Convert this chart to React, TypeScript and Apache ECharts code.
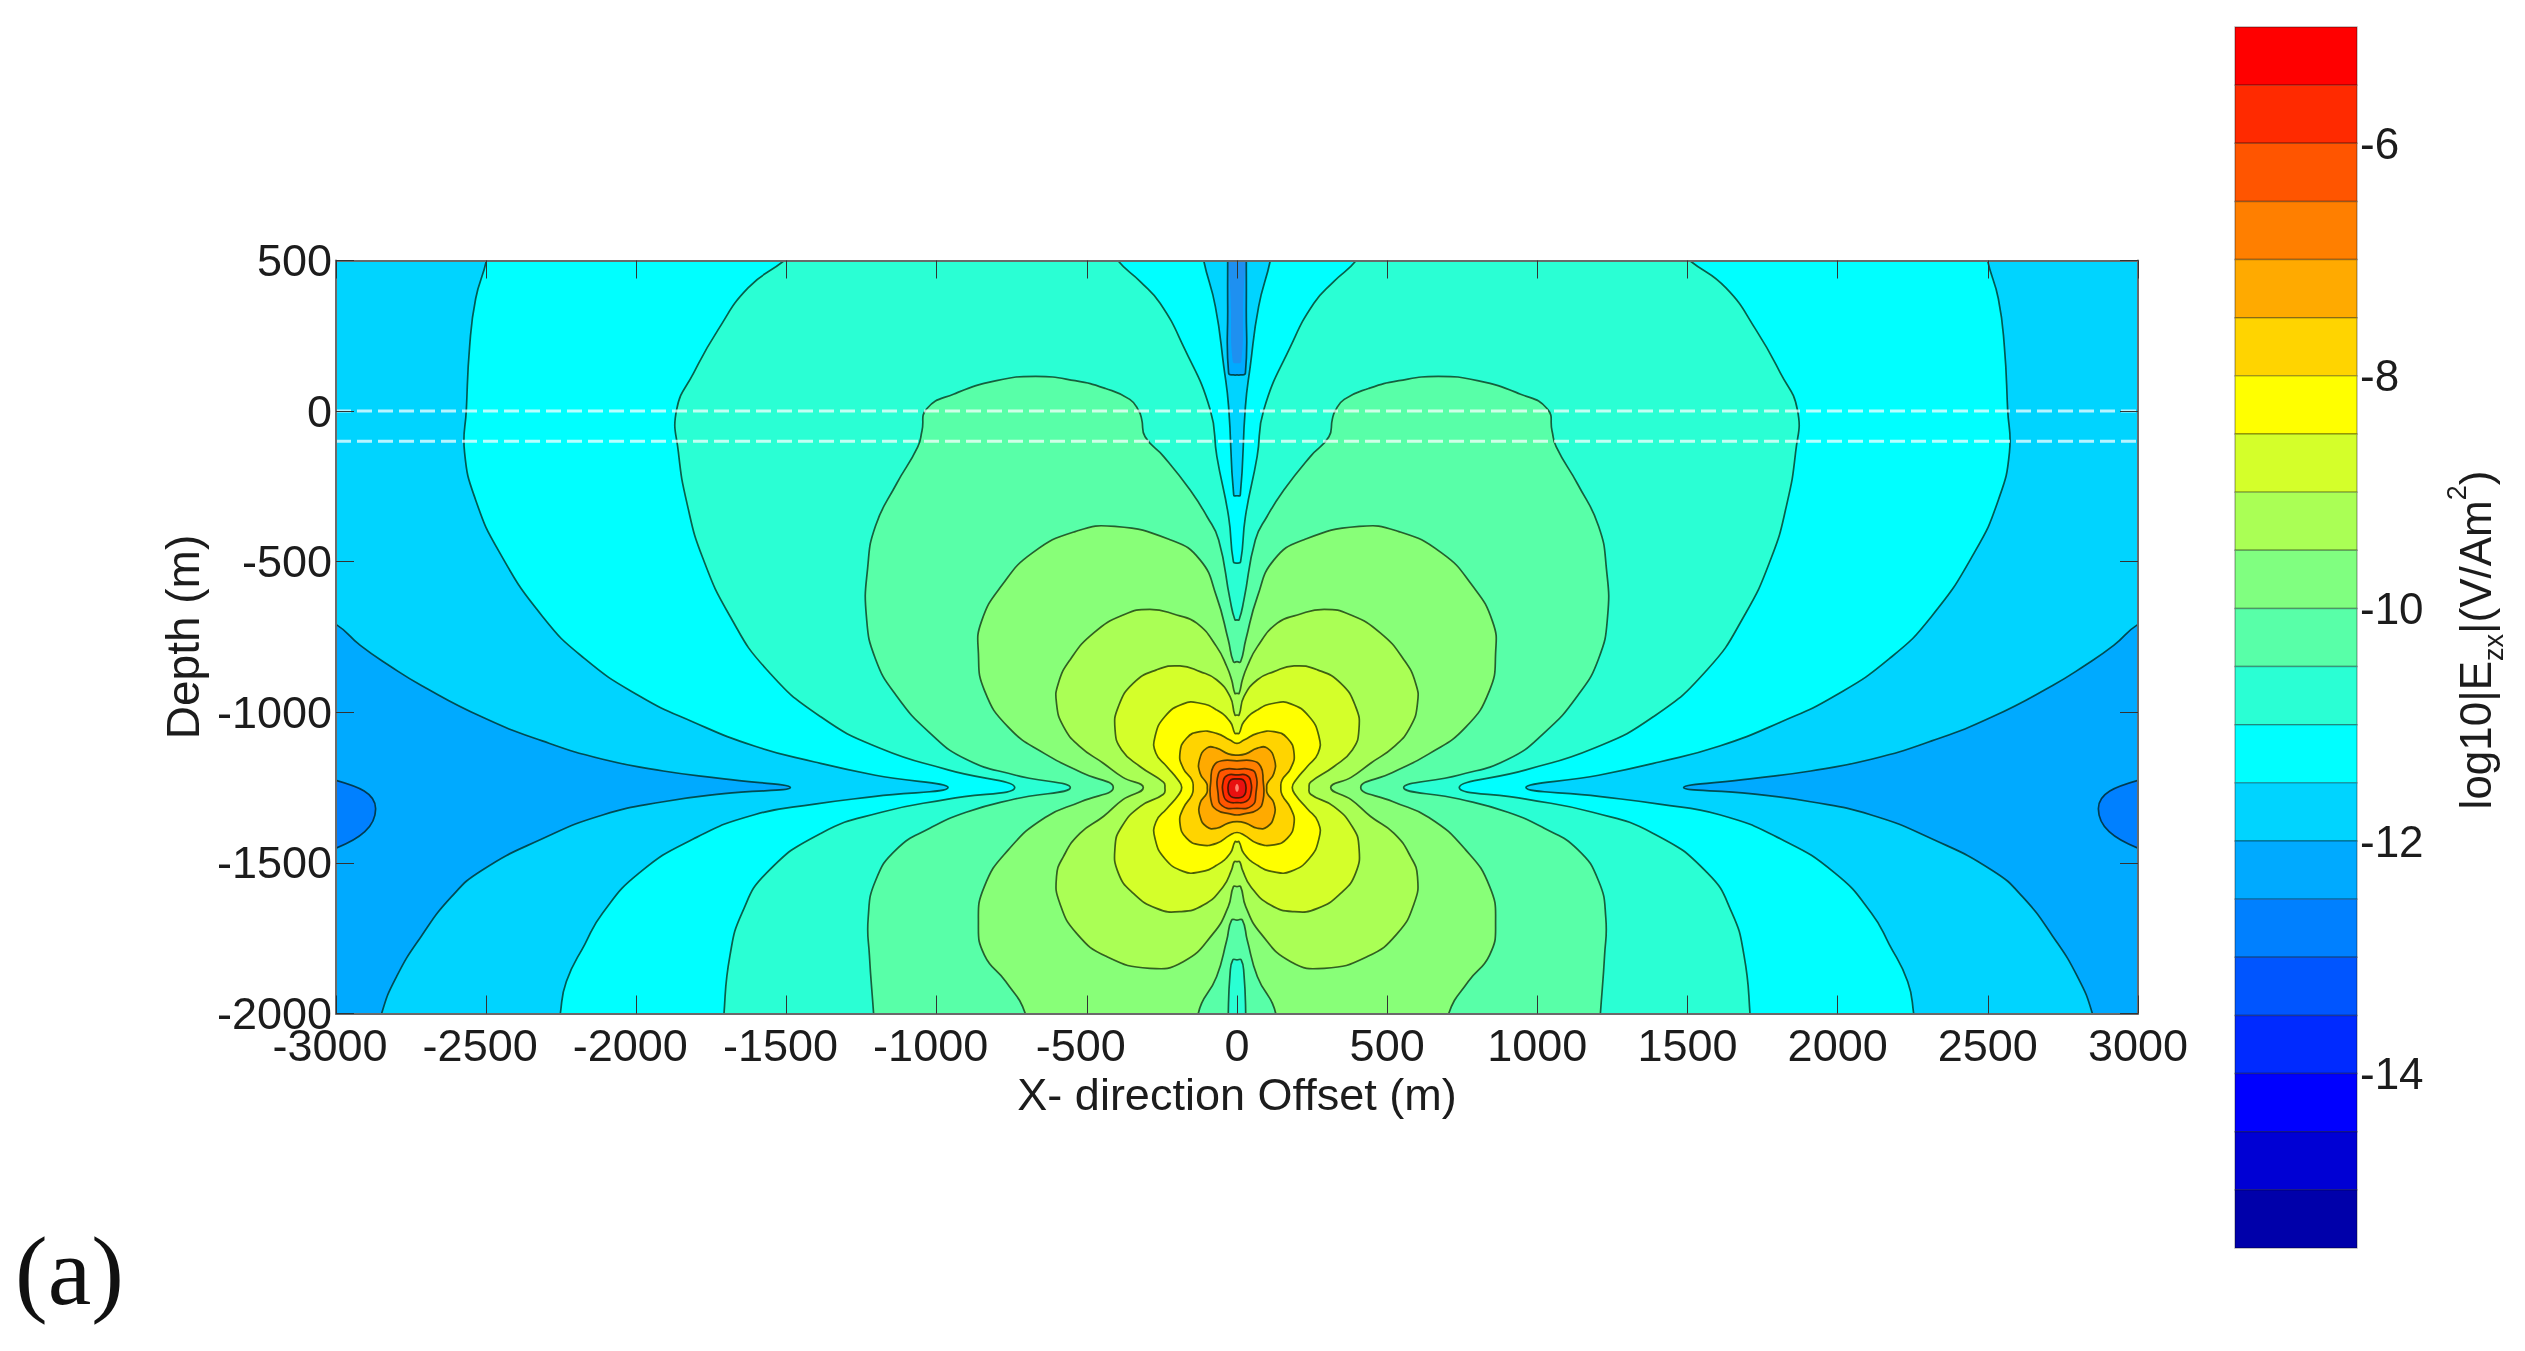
import React, { useEffect, useRef } from "react";
import * as echarts from "echarts";

type P = [number, number];

const xTicks = [-3000, 3000];
const yTicks = [-2000, 500];
const layerDepths = [0, -100];

const barLows = [-5.5, -6, -6.5, -7, -7.5, -8, -8.5, -9, -9.5, -10, -10.5, -11, -11.5, -12, -12.5, -13, -13.5, -14, -14.5, -15, -15.5];
const barColors = ["#FF0000", "#FF2A00", "#FF5500", "#FF7F00", "#FFAA00", "#FFD400", "#FFFF00", "#D4FF2A", "#AAFF55", "#80FF80", "#58FFA8", "#2AFFD4", "#00FFFF", "#00D4FF", "#00AAFF", "#0080FF", "#0055FF", "#002AFF", "#0000FF", "#0000D4", "#0000AA"];
const barTicks = [-6, -8, -10, -12, -14];

const edgeLobe: P[] = [[-3200, -1226], [-3000, -1226], [-2868, -1320], [-3000, -1451], [-3200, -1451]];
const topCore: P[] = [[0, 159], [-14, 165], [-20, 330], [-20, 620]];

const lvl12: P[] = [[0, 120], [-11, 120], [-28, 126], [-31, 347], [-31, 500], [-31, 620], [-3200, 620], [-3200, -600],
  [-3000, -708], [-2919, -778], [-2818, -848], [-2717, -910], [-2515, -1015], [-2313, -1095], [-2112, -1156], [-1910, -1195], [-1708, -1221], [-1487, -1250],
  [-1708, -1270], [-1910, -1297], [-2112, -1341], [-2313, -1420], [-2515, -1525], [-2616, -1613], [-2717, -1745], [-2798, -1877], [-2848, -2000], [-2880, -2150]];

const lvl115: P[] = [[0, -281], [-11, -278], [-28, 15], [-44, 148], [-72, 347], [-111, 500], [-130, 620], [-2480, 620],
  [-2499, 500], [-2535, 373], [-2555, 215], [-2566, 4], [-2572, -136], [-2535, -295], [-2455, -470], [-2313, -681], [-2172, -822], [-1991, -945], [-1809, -1033], [-1607, -1112], [-1406, -1165], [-1204, -1209], [-962, -1250],
  [-1204, -1279], [-1406, -1305], [-1607, -1340], [-1809, -1420], [-1991, -1534], [-2112, -1666], [-2172, -1771], [-2233, -1894], [-2253, -2000], [-2270, -2150]];

const lvl11: P[] = [[0, -505], [-12, -500], [-28, -350], [-67, -151], [-89, 4], [-178, 214], [-256, 358], [-322, 430], [-397, 500], [-480, 620], [-1360, 620],
  [-1507, 500], [-1628, 409], [-1729, 268], [-1809, 127], [-1866, 4], [-1860, -136], [-1830, -312], [-1779, -487], [-1688, -681], [-1567, -857], [-1386, -1015], [-1184, -1121], [-962, -1191], [-740, -1250],
  [-962, -1288], [-1184, -1332], [-1386, -1402], [-1567, -1534], [-1648, -1666], [-1688, -1806], [-1708, -2000], [-1712, -2150]];

const lvl105: P[] = [[0, -693], [-7, -693], [-23, -627], [-61, -428], [-100, -350], [-156, -262], [-244, -151], [-306, -85], [-317, -29], [-327, 1], [-357, 39], [-438, 75], [-539, 101], [-670, 115], [-801, 101], [-942, 57], [-1033, 8], [-1049, -66], [-1063, -119], [-1134, -242], [-1204, -382], [-1230, -523], [-1234, -681], [-1204, -822], [-1134, -945], [-1023, -1068], [-902, -1156], [-740, -1208], [-555, -1250],
  [-740, -1288], [-902, -1332], [-1023, -1385], [-1134, -1455], [-1204, -1560], [-1228, -1683], [-1224, -1806], [-1210, -2000], [-1200, -2150], [-29, -2150], [-29, -2000], [-23, -1867], [-14, -1822], [0, -1822]];

const lvl10: P[] = [[0, -832], [-12, -832], [-29, -760], [-68, -616], [-123, -494], [-223, -427], [-407, -383], [-539, -400], [-680, -470], [-781, -576], [-851, -699], [-861, -804], [-841, -927], [-760, -1051], [-639, -1138], [-518, -1200], [-412, -1250],
  [-518, -1296], [-639, -1349], [-760, -1455], [-841, -1578], [-861, -1701], [-841, -1806], [-770, -1894], [-705, -2000], [-680, -2150], [-129, -2150], [-129, -2000], [-68, -1878], [-34, -1756], [-18, -1690], [0, -1690]];

const lvl95: P[] = [[0, -937], [-7, -937], [-18, -892], [-34, -848], [-68, -782], [-134, -704], [-201, -677], [-290, -658], [-379, -677], [-478, -737], [-556, -826], [-595, -904], [-601, -970], [-578, -1047], [-523, -1114], [-445, -1169], [-380, -1216], [-312, -1250],
  [-380, -1290], [-445, -1346], [-523, -1402], [-578, -1479], [-601, -1546], [-590, -1634], [-534, -1734], [-434, -1811], [-290, -1850], [-179, -1828], [-79, -1734], [-29, -1645], [-12, -1579], [0, -1579]];

const lvl9: P[] = [[0, -1009], [-7, -1009], [-23, -948], [-68, -892], [-123, -865], [-190, -846], [-268, -859], [-345, -903], [-395, -981], [-406, -1058], [-384, -1125], [-323, -1180], [-245, -1232], [-240, -1250],
  [-245, -1272], [-323, -1313], [-384, -1380], [-406, -1446], [-395, -1534], [-345, -1601], [-268, -1651], [-190, -1662], [-112, -1640], [-46, -1579], [-18, -1523], [-9, -1496], [0, -1496]];

const lvl85: P[] = [[0, -1070], [-7, -1070], [-23, -1031], [-68, -992], [-123, -970], [-179, -972], [-240, -1014], [-273, -1081], [-270, -1136], [-234, -1180], [-196, -1225], [-184, -1250],
  [-196, -1276], [-234, -1320], [-270, -1364], [-273, -1419], [-240, -1486], [-179, -1528], [-123, -1530], [-68, -1508], [-23, -1469], [-7, -1430], [0, -1430]];

const lvl8: P[] = [[0, -1103], [-23, -1092], [-68, -1070], [-123, -1064], [-168, -1086], [-190, -1136], [-179, -1186], [-150, -1225], [-146, -1250],
  [-150, -1274], [-179, -1319], [-190, -1368], [-168, -1418], [-123, -1440], [-68, -1435], [-23, -1407], [0, -1399]];

const lvl75: P[] = [[0, -1142], [-29, -1138], [-68, -1119], [-101, -1119], [-125, -1158], [-123, -1202], [-101, -1236], [-99, -1250],
  [-101, -1269], [-123, -1302], [-123, -1346], [-101, -1380], [-68, -1385], [-29, -1368], [0, -1363]];

const lvl7: P[] = [[0, -1161], [-51, -1161], [-79, -1180], [-87, -1225], [-87, -1291], [-68, -1324], [-23, -1337], [0, -1341]];
const lvl65: P[] = [[0, -1189], [-40, -1189], [-62, -1205], [-63, -1270], [-50, -1310], [0, -1319]];
const lvl6: P[] = [[0, -1208], [-30, -1208], [-45, -1225], [-45, -1275], [-30, -1296], [0, -1300]];
const lvl55: P[] = [[0, -1221], [-20, -1224], [-29, -1240], [-29, -1265], [-20, -1280], [0, -1284]];
const peak: P[] = [[0, -1238], [-5, -1245], [-5, -1258], [0, -1264]];

const mirror = (ps: P[]): P[] => ps.map(([x, y]) => [-x, y] as P);
const closed = (left: P[]): P[] =>
  left.concat(mirror(left.slice().reverse().filter((p) => p[0] !== 0)));

const contours: { points: P[]; color: string; line: boolean }[] = [
  { points: edgeLobe, color: "#0080FF", line: true },
  { points: mirror(edgeLobe), color: "#0080FF", line: true },
  { points: closed(topCore), color: "#1E90F0", line: false },
  { points: closed(lvl12), color: "#00D4FF", line: true },
  { points: closed(lvl115), color: "#00FFFF", line: true },
  { points: closed(lvl11), color: "#2AFFD4", line: true },
  { points: closed(lvl105), color: "#58FFA8", line: true },
  { points: closed(lvl10), color: "#88FF78", line: true },
  { points: closed(lvl95), color: "#AAFF55", line: true },
  { points: closed(lvl9), color: "#D4FF2A", line: true },
  { points: closed(lvl85), color: "#FFFF00", line: true },
  { points: closed(lvl8), color: "#FFD400", line: true },
  { points: closed(lvl75), color: "#FFAA00", line: true },
  { points: closed(lvl7), color: "#FF7F00", line: true },
  { points: closed(lvl65), color: "#FF5500", line: true },
  { points: closed(lvl6), color: "#FF2A00", line: true },
  { points: closed(lvl55), color: "#E81010", line: true },
  { points: closed(peak), color: "#FF8070", line: false },
];

const FONT = "Liberation Sans";
const TXT = "#1c1c1c";
const plain = (v: number) => String(v);
const xLabel = (v: number) => (v < 0 ? `{n|${v}}` : `{p|${v}}`);

export default function App() {
  const ref = useRef<HTMLDivElement>(null);
  useEffect(() => {
    const chart = echarts.init(ref.current!, undefined, { renderer: "svg" });
    const tick = { show: true, inside: true, length: 18, lineStyle: { color: "#333", width: 1 } };
    const line = { show: true, onZero: false, lineStyle: { color: "#6a6a6a", width: 2 } };
    chart.setOption({
      animation: false,
      backgroundColor: "#fff",
      textStyle: { fontFamily: FONT },
      grid: [
        { left: 336, top: 260.5, width: 1802, height: 753, show: true, backgroundColor: "#00AAFF", borderWidth: 0 },
        { left: 2235, top: 27, width: 122, height: 1221 },
      ],
      xAxis: [
        {
          type: "value", gridIndex: 0, min: xTicks[0], max: xTicks[1], interval: 500, position: "bottom", z: 5,
          axisLine: line, axisTick: tick, splitLine: { show: false },
          axisLabel: {
            formatter: xLabel, fontFamily: FONT, fontSize: 45, color: TXT, margin: 9, hideOverlap: false,
            rich: {
              n: { fontFamily: FONT, fontSize: 45, fill: TXT, padding: [0, 12, 0, 0] },
              p: { fontFamily: FONT, fontSize: 45, fill: TXT },
            },
          },
          name: "X- direction Offset (m)", nameLocation: "middle", nameGap: 51,
          nameTextStyle: { fontFamily: FONT, fontSize: 45, color: TXT },
        },
        {
          type: "value", gridIndex: 0, min: xTicks[0], max: xTicks[1], interval: 500, position: "top", z: 5,
          axisLine: line, axisTick: tick, splitLine: { show: false }, axisLabel: { show: false },
        },
        { type: "value", gridIndex: 1, min: 0, max: 1, show: false },
      ],
      yAxis: [
        {
          type: "value", gridIndex: 0, min: yTicks[0], max: yTicks[1], interval: 500, position: "left", z: 5,
          axisLine: line, axisTick: tick, splitLine: { show: false },
          axisLabel: { formatter: plain, fontFamily: FONT, fontSize: 45, color: TXT, margin: 4, hideOverlap: false },
          name: "Depth (m)", nameLocation: "middle", nameGap: 130, nameRotate: 90,
          nameTextStyle: { fontFamily: FONT, fontSize: 46, color: TXT },
        },
        {
          type: "value", gridIndex: 0, min: yTicks[0], max: yTicks[1], interval: 500, position: "right", z: 5,
          axisLine: line, axisTick: tick, splitLine: { show: false }, axisLabel: { show: false },
        },
        {
          type: "value", gridIndex: 1, min: -15.5, max: -5, position: "right",
          axisLine: { show: false }, axisTick: { show: false }, splitLine: { show: false },
          axisLabel: { customValues: barTicks, fontFamily: FONT, fontSize: 44, color: TXT, margin: 3 },
        },
      ],
      series: [
        {
          type: "custom", coordinateSystem: "cartesian2d", xAxisIndex: 0, yAxisIndex: 0, clip: true, silent: true, z: 2,
          data: contours.map((c) => [c.points[0][0], c.points[0][1]]),
          renderItem: (params: any, api: any) => {
            const c = contours[params.dataIndex];
            return {
              type: "polygon",
              shape: { points: c.points.map((p) => api.coord(p)), smooth: 0.5 },
              style: { fill: c.color, stroke: c.line ? "rgba(0,20,0,0.68)" : "none", lineWidth: 1.7 },
            };
          },
        },
        ...layerDepths.map((d) => ({
          type: "line", xAxisIndex: 0, yAxisIndex: 0, z: 4, symbol: "none", silent: true,
          data: [[xTicks[0], d], [xTicks[1], d]],
          lineStyle: { color: "rgba(255,255,255,0.72)", width: 3, type: [15, 6] },
        })),
        {
          type: "custom", coordinateSystem: "cartesian2d", xAxisIndex: 2, yAxisIndex: 2, silent: true, z: 2,
          data: barLows.map((low) => [0, low]),
          renderItem: (params: any, api: any) => {
            const low = barLows[params.dataIndex];
            const a = api.coord([0, low + 0.5]);
            const b = api.coord([1, low]);
            return {
              type: "rect",
              shape: { x: a[0], y: a[1], width: b[0] - a[0], height: b[1] - a[1] },
              style: { fill: barColors[params.dataIndex], stroke: "rgba(0,0,0,0.3)", lineWidth: 1.4 },
            };
          },
        },
      ],
      graphic: [
        {
          type: "text", left: 15, top: 1222,
          style: { text: "(a)", font: '98px "Liberation Serif"', fill: "#111" },
        },
        {
          type: "text", x: 2475, y: 640, rotation: Math.PI / 2, originX: 0, originY: 0,
          style: {
            text: "{a|log10|E}{s|zx}{a||(V/Am}{u|2}{a|)}",
            align: "center", verticalAlign: "middle",
            rich: {
              a: { fontFamily: FONT, fontSize: 44, fill: TXT, lineHeight: 64, verticalAlign: "middle" },
              s: { fontFamily: FONT, fontSize: 27, fill: TXT, lineHeight: 28, verticalAlign: "bottom" },
              u: { fontFamily: FONT, fontSize: 27, fill: TXT, lineHeight: 28, verticalAlign: "top" },
            },
          },
        },
      ],
    });
    return () => chart.dispose();
  }, []);
  return <div ref={ref} style={{ position: "absolute", left: 0, top: 0, width: 2525, height: 1351, filter: "blur(0.7px)" }} />;
}
